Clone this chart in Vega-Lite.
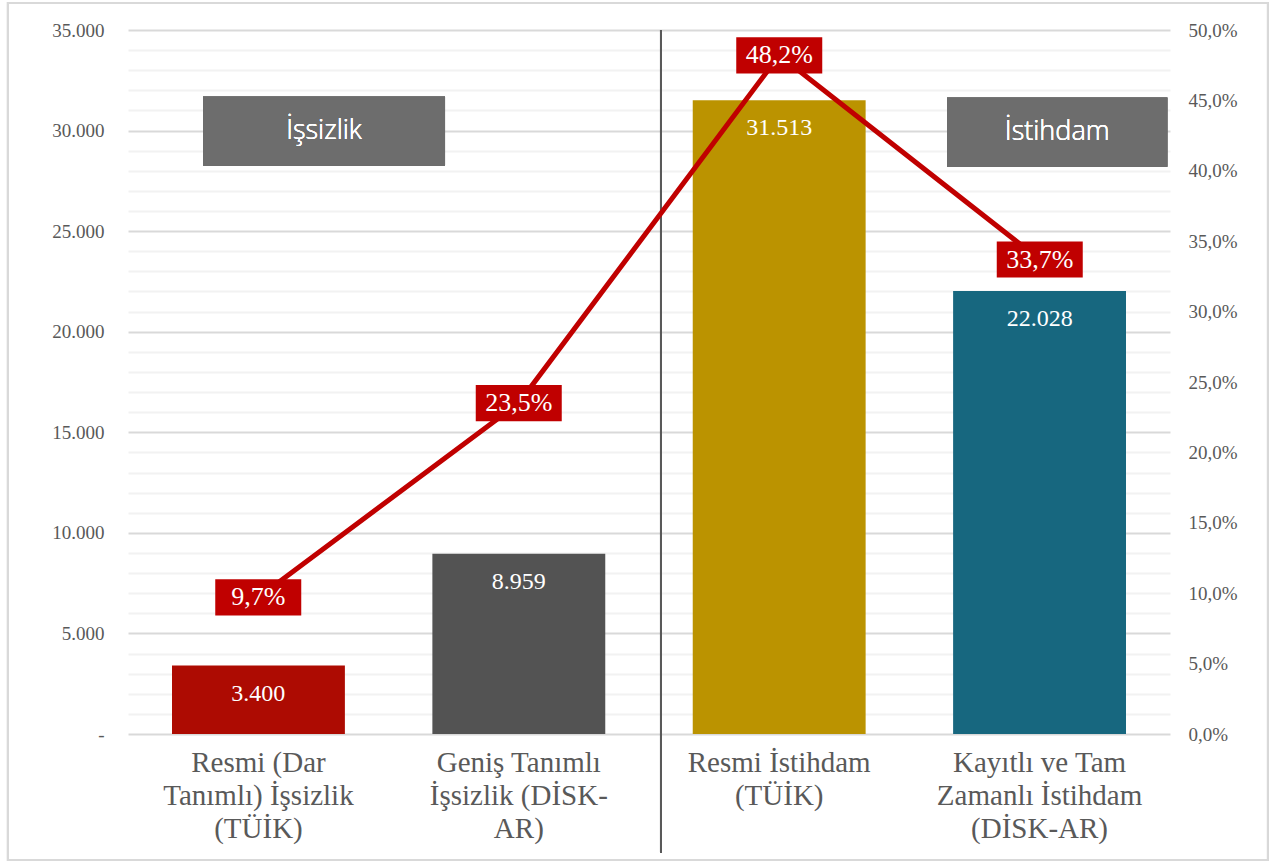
{
  "$schema": "https://vega.github.io/schema/vega-lite/v6.json",
  "width": 1042,
  "height": 704,
  "autosize": {"type": "none"},
  "padding": {"left": 128, "top": 30, "right": 104, "bottom": 131},
  "background": "white",
  "config": {
    "view": {"stroke": null},
    "locale": {"number": {"decimal": ",", "thousands": ".", "grouping": [3], "currency": ["", " ₺"], "percent": "%"}},
    "axis": {"domain": false, "ticks": false, "labelColor": "#595959", "labelFont": "Liberation Serif", "title": null}
  },
  "data": {"values": [
    {"cat": "Resmi (Dar Tanımlı) İşsizlik (TÜİK)", "value": 3400, "rate": 0.097},
    {"cat": "Geniş Tanımlı İşsizlik (DİSK-AR)", "value": 8959, "rate": 0.235},
    {"cat": "Resmi İstihdam (TÜİK)", "value": 31513, "rate": 0.482},
    {"cat": "Kayıtlı ve Tam Zamanlı İstihdam (DİSK-AR)", "value": 22028, "rate": 0.337}
  ]},
  "resolve": {"scale": {"x": "independent", "y": "independent"}, "axis": {"x": "independent", "y": "independent"}},
  "layer": [
    {
      "mark": {"type": "rect", "filled": false, "stroke": "#d9d9d9", "strokeWidth": 2},
      "encoding": {
        "x": {"datum": -0.461, "type": "quantitative", "scale": {"domain": [0, 4], "nice": false, "zero": false}, "axis": null},
        "x2": {"datum": 4.376},
        "y": {"datum": 36340, "type": "quantitative", "scale": {"domain": [0, 35000], "nice": false}, "axis": null},
        "y2": {"datum": -6260}
      }
    },
    {
      "mark": {"type": "bar"},
      "encoding": {
        "x": {"field": "cat", "type": "nominal", "sort": null,
          "scale": {"domain": ["Resmi (Dar Tanımlı) İşsizlik (TÜİK)", "Geniş Tanımlı İşsizlik (DİSK-AR)", "Resmi İstihdam (TÜİK)", "Kayıtlı ve Tam Zamanlı İstihdam (DİSK-AR)"], "paddingInner": 0.336, "paddingOuter": 0.169},
          "axis": {"orient": "bottom", "labelAngle": 0, "labelFontSize": 29, "labelLineHeight": 33, "labelPadding": 14, "labelBaseline": "top", "labelLimit": 400,
            "labelExpr": "datum.value == 'Resmi (Dar Tanımlı) İşsizlik (TÜİK)' ? ['Resmi (Dar', 'Tanımlı) İşsizlik', '(TÜİK)'] : datum.value == 'Geniş Tanımlı İşsizlik (DİSK-AR)' ? ['Geniş Tanımlı', 'İşsizlik (DİSK-', 'AR)'] : datum.value == 'Resmi İstihdam (TÜİK)' ? ['Resmi İstihdam', '(TÜİK)'] : ['Kayıtlı ve Tam', 'Zamanlı İstihdam', '(DİSK-AR)']"}},
        "y": {"field": "value", "type": "quantitative",
          "scale": {"domain": [0, 35000], "nice": false},
          "axis": {"orient": "left", "values": [0,1000,2000,3000,4000,5000,6000,7000,8000,9000,10000,11000,12000,13000,14000,15000,16000,17000,18000,19000,20000,21000,22000,23000,24000,25000,26000,27000,28000,29000,30000,31000,32000,33000,34000,35000],
            "grid": true, "gridWidth": 2,
            "gridColor": {"condition": {"test": "datum.value % 5000 === 0", "value": "#d9d9d9"}, "value": "#f2f2f2"},
            "labelFontSize": 19, "labelPadding": 24,
            "labelExpr": "datum.value % 5000 === 0 ? (datum.value === 0 ? '-' : replace(format(datum.value, ','), ',', '.')) : ''"}},
        "color": {"field": "cat", "type": "nominal", "legend": null,
          "scale": {"domain": ["Resmi (Dar Tanımlı) İşsizlik (TÜİK)", "Geniş Tanımlı İşsizlik (DİSK-AR)", "Resmi İstihdam (TÜİK)", "Kayıtlı ve Tam Zamanlı İstihdam (DİSK-AR)"], "range": ["#ad0b02", "#535353", "#bb9300", "#17677f"]}}
      }
    },
    {
      "mark": {"type": "text", "color": "white", "font": "Liberation Serif", "fontSize": 24, "baseline": "middle", "dy": 28},
      "encoding": {
        "x": {"field": "cat", "type": "nominal", "sort": null,
          "scale": {"domain": ["Resmi (Dar Tanımlı) İşsizlik (TÜİK)", "Geniş Tanımlı İşsizlik (DİSK-AR)", "Resmi İstihdam (TÜİK)", "Kayıtlı ve Tam Zamanlı İstihdam (DİSK-AR)"], "paddingInner": 0.336, "paddingOuter": 0.169}, "axis": null},
        "y": {"field": "value", "type": "quantitative", "scale": {"domain": [0, 35000], "nice": false}, "axis": null},
        "text": {"field": "value", "type": "quantitative", "format": ","}
      }
    },
    {
      "mark": {"type": "rule", "color": "#595959", "strokeWidth": 2},
      "encoding": {
        "x": {"datum": 2.046, "type": "quantitative", "scale": {"domain": [0, 4], "nice": false, "zero": false}, "axis": null},
        "y": {"datum": 35000, "type": "quantitative", "scale": {"domain": [0, 35000], "nice": false}, "axis": null},
        "y2": {"datum": -5900}
      }
    },
    {
      "mark": {"type": "rect", "color": "#6d6d6d"},
      "encoding": {
        "x": {"datum": 0.288, "type": "quantitative", "scale": {"domain": [0, 4], "nice": false, "zero": false}, "axis": null},
        "x2": {"datum": 1.217},
        "y": {"datum": 31700, "type": "quantitative", "scale": {"domain": [0, 35000], "nice": false}, "axis": null},
        "y2": {"datum": 28250}
      }
    },
    {
      "mark": {"type": "rect", "color": "#6d6d6d"},
      "encoding": {
        "x": {"datum": 3.144, "type": "quantitative", "scale": {"domain": [0, 4], "nice": false, "zero": false}, "axis": null},
        "x2": {"datum": 3.99},
        "y": {"datum": 31650, "type": "quantitative", "scale": {"domain": [0, 35000], "nice": false}, "axis": null},
        "y2": {"datum": 28200}
      }
    },
    {
      "mark": {"type": "text", "color": "white", "font": "Open Sans", "fontWeight": 300, "fontSize": 27, "baseline": "middle", "align": "center", "text": "İşsizlik"},
      "encoding": {
        "x": {"datum": 0.7525, "type": "quantitative", "scale": {"domain": [0, 4], "nice": false, "zero": false}, "axis": null},
        "y": {"datum": 29975, "type": "quantitative", "scale": {"domain": [0, 35000], "nice": false}, "axis": null}
      }
    },
    {
      "mark": {"type": "text", "color": "white", "font": "Open Sans", "fontWeight": 300, "fontSize": 27, "baseline": "middle", "align": "center", "text": "İstihdam"},
      "encoding": {
        "x": {"datum": 3.567, "type": "quantitative", "scale": {"domain": [0, 4], "nice": false, "zero": false}, "axis": null},
        "y": {"datum": 29925, "type": "quantitative", "scale": {"domain": [0, 35000], "nice": false}, "axis": null}
      }
    },
    {
      "mark": {"type": "line", "color": "#c00000", "strokeWidth": 5},
      "encoding": {
        "x": {"field": "cat", "type": "nominal", "sort": null,
          "scale": {"domain": ["Resmi (Dar Tanımlı) İşsizlik (TÜİK)", "Geniş Tanımlı İşsizlik (DİSK-AR)", "Resmi İstihdam (TÜİK)", "Kayıtlı ve Tam Zamanlı İstihdam (DİSK-AR)"], "paddingInner": 0.336, "paddingOuter": 0.169}, "axis": null},
        "y": {"field": "rate", "type": "quantitative", "scale": {"domain": [0, 0.5], "nice": false},
          "axis": {"orient": "right", "values": [0, 0.05, 0.1, 0.15, 0.2, 0.25, 0.3, 0.35, 0.4, 0.45, 0.5], "grid": false, "labelFontSize": 19, "labelPadding": 18,
            "labelExpr": "replace(format(datum.value, '.1%'), '.', ',')"}}
      }
    },
    {
      "mark": {"type": "point", "shape": "M-1,-0.42H1V0.42H-1Z", "filled": true, "color": "#c00000", "opacity": 1, "size": 7396},
      "encoding": {
        "x": {"field": "cat", "type": "nominal", "sort": null,
          "scale": {"domain": ["Resmi (Dar Tanımlı) İşsizlik (TÜİK)", "Geniş Tanımlı İşsizlik (DİSK-AR)", "Resmi İstihdam (TÜİK)", "Kayıtlı ve Tam Zamanlı İstihdam (DİSK-AR)"], "paddingInner": 0.336, "paddingOuter": 0.169}, "axis": null},
        "y": {"field": "rate", "type": "quantitative", "scale": {"domain": [0, 0.5], "nice": false}, "axis": null}
      }
    },
    {
      "mark": {"type": "text", "color": "white", "font": "Liberation Serif", "fontSize": 26, "baseline": "middle", "align": "center"},
      "encoding": {
        "x": {"field": "cat", "type": "nominal", "sort": null,
          "scale": {"domain": ["Resmi (Dar Tanımlı) İşsizlik (TÜİK)", "Geniş Tanımlı İşsizlik (DİSK-AR)", "Resmi İstihdam (TÜİK)", "Kayıtlı ve Tam Zamanlı İstihdam (DİSK-AR)"], "paddingInner": 0.336, "paddingOuter": 0.169}, "axis": null},
        "y": {"field": "rate", "type": "quantitative", "scale": {"domain": [0, 0.5], "nice": false}, "axis": null},
        "text": {"field": "rate", "type": "quantitative", "format": ".1%"}
      }
    }
  ]
}
